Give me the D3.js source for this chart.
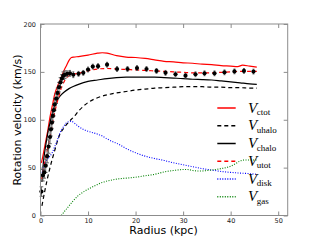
<!DOCTYPE html>
<html><head><meta charset="utf-8">
<script src="https://cdn.jsdelivr.net/npm/d3@7"></script>
<style>body{margin:0;background:#fff}svg{display:block}</style>
</head><body>
<script>
// ---- data ----
const obsR = [0.2,0.5,0.8,1.1,1.4,1.7,2.0,2.2,2.4,2.6,2.8,3.0,3.3,3.6,3.9,4.2,4.5,4.8,5.1,5.6,6.2,6.9,8.0,9.0,10.0,11.0,12.1,14.0,16.1,18.3,20.3,22.3,24.4,26.3,28.4,30.5,32.6,34.5,36.6,38.7,40.8,42.8,44.8];
const obsV = [25,42,45,52,62,72,82,90,97,104,110,116,122,128,134,139,143,146,147,148,148.5,147,148,149,152.5,155.5,156,157.5,153,153,154,153,151,149,147.5,146,147.5,148.5,148.5,149.5,150.5,151,150.3];
const obsErr = [5,6,6,7,7,7,7,7,6,6,6,6,5,5,5,5,4,4,4,3,3,3,2.5,2.5,2.5,2.5,2.5,2.5,2.5,2.5,2.5,2.5,2.5,2.5,2.5,2.5,2.5,2.5,2.5,2.5,2.5,2.5,2.5];

const ctotR = [0.2,0.5,1,1.5,2,2.5,3,3.5,4,4.5,5,5.5,6,6.5,7,8,10,12,13,14,16,18,20,22,24,26,28,30,32,34,36,38,40,41.5,42.5,44,45.5];
const ctotV = [55,62,75,88,103,115,127,134,140,146,152,157,162,165,165.5,166,167.5,169.5,170,169.5,167,165.5,165,164,162.5,161,160.5,159.5,159,158,157.5,156.5,156,155.5,157,156,155];

const uhaloR = [0.3,1,2,3,4,5,6,7,8,9,10,12,14,16,18,20,22,24,26,28,30,32,34,36,38,40,42,44,45.5];
const uhaloV = [10,28,50,68,84,92,98,103,109,114,118,123,126,128,129.5,131,132,133,133.5,134,134.5,134.5,134.5,134,134,133.5,133.5,133,133];

const chaloR = [0.3,0.6,1,1.5,2,2.5,3,3.5,4,5,6,7,8,10,12,14,16,18,20,22,24,26,28,30,32,34,36,38,40,42,44,45.5];
const chaloV = [35,55,70,85,97,107,115,120,124,129,132.5,135,137,140,141.5,143,144,144.5,144.5,144.5,144.5,144,143.5,143,142.3,142,141.5,140.5,139.5,138.5,137.5,137];

const utotR = [0.3,0.6,1,1.5,2,2.5,3,3.5,4,4.5,5,5.5,6,7,8,10,12,14,16,18,20,22,24,26,28,30,32,34,36,38,40,42,44,45.5];
const utotV = [38,48,58,70,82,95,108,118,127,135,140,144,146,147.5,148.5,151,153,153.5,153,152.5,152,151.5,151,150.5,150,149.5,149,149,149,149.5,150,150.5,150.5,150.5];

const diskR = [0.2,0.5,1,1.5,2,2.5,3,3.5,4,4.5,5,5.5,6,6.5,7,8,9,10,11,12,13,14,15,16,18,20,22,24,26,28,30,32,34,36,38,40,42,44,45.5];
const diskV = [42,48,55,59,62,66,72,78,85,90,94,97,98,98.5,97,93,90,88,86.5,85,83,80,77.5,75.5,70,65.5,62,59.5,57.5,55,53,51,49,47.5,46,45,44.3,43.7,43];

const gasR = [4.4,5,6,7,8,9,10,11,12,13,14,15,16,18,20,22,24,26,28,30,31,32,33,34,35,36,38,40,41,42,43,45.5];
const gasV = [0,4,10,16,21,24.5,27.5,30,32.5,34.5,36,37,38,39,40,41.5,43,45.5,47,48,48,47,46.5,46.5,47,47.5,49,51.5,54,57,58,58];

const xTicks = [0,10,20,30,40,50];
const yTicks = [0,50,100,150,200];
const legendMain = ["V","V","V","V","V","V"];
const legendSub = ["ctot","uhalo","chalo","utot","disk","gas"];

// ---- drawing ----
const W = 320, H = 240;
const L = 40.5, R = 287.7, T = 24, B = 215.5;
const svg = d3.select("body").append("svg").attr("width", W).attr("height", H);
const x = d3.scaleLinear().domain([0, 52]).range([L, R]);
const y = d3.scaleLinear().domain([0, 200]).range([B, T]);

const series = [
  {r: ctotR, v: ctotV, color: "#ff0000", dash: null, w: 1.2},
  {r: uhaloR, v: uhaloV, color: "#000000", dash: "4,3", w: 1.2},
  {r: chaloR, v: chaloV, color: "#000000", dash: null, w: 1.2},
  {r: utotR, v: utotV, color: "#ff0000", dash: "4,3", w: 1.2},
  {r: diskR, v: diskV, color: "#0000ff", dash: "1,1.5", w: 1.1},
  {r: gasR, v: gasV, color: "#008000", dash: "1,1.5", w: 1.1}
];

const line = d3.line().x(d => x(d[0])).y(d => y(d[1])).curve(d3.curveMonotoneX);
const gPlot = svg.append("g");
series.forEach(s => {
  gPlot.append("path")
    .datum(s.r.map((r, i) => [r, s.v[i]]))
    .attr("d", line).attr("fill", "none")
    .attr("stroke", s.color).attr("stroke-width", s.w)
    .attr("stroke-dasharray", s.dash);
});

// error bars
const obs = obsR.map((r, i) => ({r, v: obsV[i], e: obsErr[i]}));
const eb = gPlot.append("g").attr("stroke", "#555").attr("stroke-width", 0.9);
obs.forEach(d => {
  const cw = d.r < 6 ? 1.8 : 1.0;
  eb.append("line").attr("x1", x(d.r)).attr("x2", x(d.r)).attr("y1", y(d.v - d.e)).attr("y2", y(d.v + d.e));
  eb.append("line").attr("x1", x(d.r) - cw).attr("x2", x(d.r) + cw).attr("y1", y(d.v - d.e)).attr("y2", y(d.v - d.e));
  eb.append("line").attr("x1", x(d.r) - cw).attr("x2", x(d.r) + cw).attr("y1", y(d.v + d.e)).attr("y2", y(d.v + d.e));
});
gPlot.append("g").selectAll("circle").data(obs).join("circle")
  .attr("cx", d => x(d.r)).attr("cy", d => y(d.v)).attr("r", 2.1).attr("fill", "#000");

// frame + ticks
const frameColor = "#8c8c8c";
svg.append("rect").attr("x", L).attr("y", T).attr("width", R - L).attr("height", B - T)
  .attr("fill", "none").attr("stroke", frameColor).attr("stroke-width", 1);

const axB = d3.axisBottom(x).tickValues(xTicks).tickSizeInner(-4).tickSizeOuter(0).tickPadding(2.5);
const axL = d3.axisLeft(y).tickValues(yTicks).tickSizeInner(-4).tickSizeOuter(0).tickPadding(4.5);
const axT = d3.axisTop(x).tickValues(xTicks).tickSizeInner(-4).tickSizeOuter(0).tickFormat("");
const axR = d3.axisRight(y).tickValues(yTicks).tickSizeInner(-4).tickSizeOuter(0).tickFormat("");
function styleAxis(g) {
  g.select(".domain").remove();
  g.selectAll(".tick line").attr("stroke", frameColor);
  g.selectAll(".tick text").attr("fill", "#222").style("font-family", "DejaVu Sans").style("font-size", "6.5px");
}
svg.append("g").attr("transform", `translate(0,${B})`).call(axB).call(styleAxis);
svg.append("g").attr("transform", `translate(${L},0)`).call(axL).call(styleAxis);
svg.append("g").attr("transform", `translate(0,${T})`).call(axT).call(styleAxis);
svg.append("g").attr("transform", `translate(${R},0)`).call(axR).call(styleAxis);

// axis labels
svg.append("text").attr("x", 163.5).attr("y", 234).attr("text-anchor", "middle")
  .style("font-family", "DejaVu Sans").style("font-size", "11px").text("Radius (kpc)");
svg.append("text").attr("transform", `translate(20.5,120) rotate(-90)`).attr("text-anchor", "middle")
  .style("font-family", "DejaVu Sans").style("font-size", "11px").text("Rotation velocity (km/s)");

// legend
const legY0 = 108, legDy = 17.75;
series.forEach((s, i) => {
  const ly = legY0 + i * legDy;
  svg.append("line").attr("x1", 217.3).attr("x2", 235.7).attr("y1", ly).attr("y2", ly)
    .attr("stroke", s.color).attr("stroke-width", s.w + 0.3).attr("stroke-dasharray", s.dash);
  const t = svg.append("text").attr("x", 248).attr("y", ly + 4.5)
    .style("font-family", "Liberation Serif").style("font-size", "15px");
  t.append("tspan").style("font-style", "italic").text(legendMain[i]);
  t.append("tspan").attr("dy", 2.5).attr("dx", -0.5).style("font-size", "9px").text(legendSub[i]);
});
</script>
</body></html>
